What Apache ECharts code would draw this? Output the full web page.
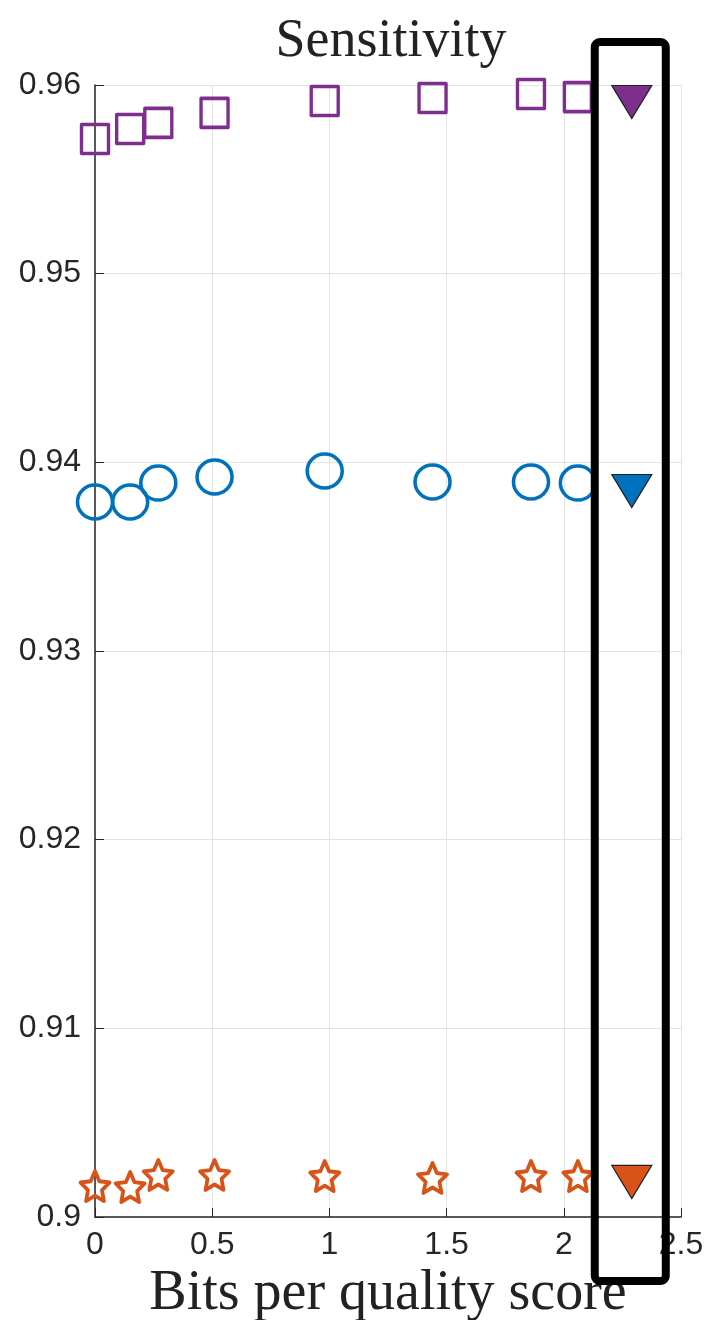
<!DOCTYPE html>
<html>
<head>
<meta charset="utf-8">
<script src="https://cdn.jsdelivr.net/npm/echarts@6/dist/echarts.min.js"></script>
<style>
  html, body { margin: 0; padding: 0; background: #fff; }
  #chart { width: 706px; height: 1320px; }
</style>
</head>
<body>
<div id="chart"></div>
<script>
// Bits per quality score for each compression setting
const bits = [0, 0.15, 0.27, 0.51, 0.98, 1.44, 1.86, 2.06];
// Sensitivity per caller at each setting
const purpleVals = [0.95714, 0.95767, 0.95799, 0.95852, 0.95915, 0.95931, 0.95952, 0.95936];
const blueVals   = [0.93790, 0.93790, 0.93890, 0.93922, 0.93954, 0.93896, 0.93896, 0.93890];
const orangeVals = [0.90164, 0.90159, 0.90223, 0.90223, 0.90217, 0.90207, 0.90217, 0.90217];
// Lossless reference (uncompressed) position and values
const losslessBits = 2.29;
const losslessVals = [0.95910, 0.93848, 0.90186];
const yTicks = [0.9, 0.91, 0.92, 0.93, 0.94, 0.95, 0.96];
const xTicks = [0, 0.5, 1, 1.5, 2, 2.5];

const PURPLE = '#7E2F8E', BLUE = '#0072BD', ORANGE = '#D95319';

// five-pointed star outline used as a marker
function starPath() {
  const pts = [];
  for (let i = 0; i < 10; i++) {
    const r = i % 2 === 0 ? 1 : 0.48;
    const a = -Math.PI / 2 + i * Math.PI / 5;
    pts.push((r * Math.cos(a)).toFixed(3) + ',' + (r * Math.sin(a)).toFixed(3));
  }
  return 'path://M' + pts.join(' L') + ' Z';
}

const zip = (xs, ys) => xs.map((x, i) => [x, ys[i]]);

const chart = echarts.init(document.getElementById('chart'), null, { renderer: 'canvas' });

const sansFont = '"Liberation Sans", Arial, sans-serif';
const serifFont = '"Liberation Serif", "DejaVu Serif", serif';

function hollow(color, bw) {
  return { color: 'rgba(255,255,255,0)', borderColor: color, borderWidth: bw,
    borderJoin: 'round', opacity: 1 };
}

chart.setOption({
  animation: false,
  backgroundColor: '#fff',
  title: {
    text: 'Sensitivity',
    left: 386, top: 10, textAlign: 'center',
    textStyle: { fontFamily: serifFont, fontWeight: 'normal', fontSize: 54, color: '#222' }
  },
  grid: { left: 95, right: 25, top: 85, bottom: 103, outerBoundsMode: 'none', containLabel: false },
  xAxis: {
    type: 'value', min: 0, max: 2.5, interval: 0.5,
    name: 'Bits per quality score', nameLocation: 'middle', nameGap: 43,
    nameTextStyle: { fontFamily: serifFont, fontSize: 56, color: '#222' },
    axisLine: { show: true, onZero: false, lineStyle: { color: '#262626', width: 1.5 } },
    axisTick: { show: true, inside: true, length: 9, lineStyle: { color: '#262626' } },
    axisLabel: { fontFamily: sansFont, fontSize: 32, color: '#262626', margin: 12,
      formatter: v => String(v) },
    splitLine: { show: true, lineStyle: { color: '#e3e3e3', width: 1 } }
  },
  yAxis: {
    type: 'value', min: 0.9, max: 0.96, interval: 0.01,
    axisLine: { show: true, onZero: false, lineStyle: { color: '#262626', width: 1.5 } },
    axisTick: { show: true, inside: true, length: 9, lineStyle: { color: '#262626' } },
    axisLabel: { fontFamily: sansFont, fontSize: 32, color: '#262626', margin: 14,
      formatter: v => String(+v.toFixed(2)) },
    splitLine: { show: true, lineStyle: { color: '#e3e3e3', width: 1 } }
  },
  series: [
    {
      type: 'scatter', data: zip(bits, purpleVals),
      symbol: 'rect', symbolSize: [27, 29],
      itemStyle: hollow(PURPLE, 3.5)
    },
    {
      type: 'scatter', data: zip(bits, blueVals),
      symbol: 'circle', symbolSize: [35, 34],
      itemStyle: hollow(BLUE, 3.5)
    },
    {
      type: 'scatter', data: zip(bits, orangeVals),
      symbol: starPath(), symbolSize: [29, 30],
      itemStyle: hollow(ORANGE, 3.8)
    },
    {
      type: 'scatter',
      data: [
        { value: [losslessBits, losslessVals[0]], itemStyle: { color: PURPLE } },
        { value: [losslessBits, losslessVals[1]], itemStyle: { color: BLUE } },
        { value: [losslessBits, losslessVals[2]], itemStyle: { color: ORANGE } }
      ],
      symbol: 'triangle', symbolRotate: 180, symbolSize: [40, 33],
      itemStyle: { borderColor: '#222', borderWidth: 1.2, opacity: 1 },
      z: 5
    }
  ]
});

// highlight box around the lossless column
const cx = chart.convertToPixel({ xAxisIndex: 0 }, losslessBits);
chart.setOption({
  graphic: [{
    type: 'rect', z: 100,
    shape: { x: cx - 37, y: 42, width: 71, height: 1239, r: 5 },
    style: { fill: 'none', stroke: '#000', lineWidth: 8 }
  }]
});
</script>
</body>
</html>
